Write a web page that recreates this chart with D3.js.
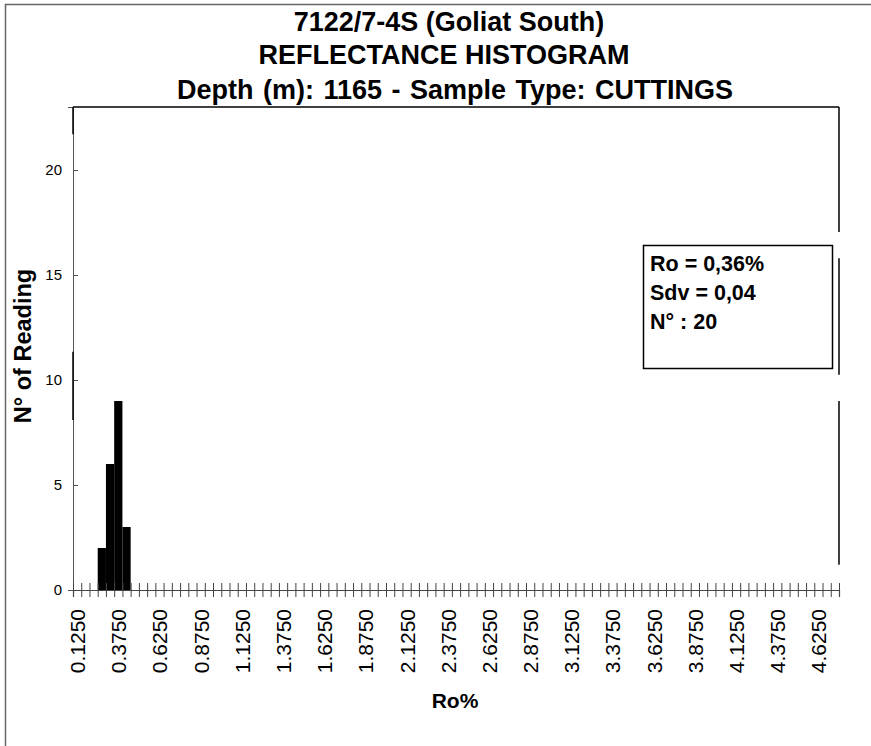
<!DOCTYPE html>
<html>
<head>
<meta charset="utf-8">
<script src="https://cdn.jsdelivr.net/npm/d3@7"></script>
<style>
  html, body { margin: 0; padding: 0; background: #fff; }
  svg { display: block; font-family: "Liberation Sans", Arial, sans-serif; }
</style>
</head>
<body>
<svg id="chart" width="871" height="746"></svg>
<script>
// Reflectance histogram: readings per Ro% class (classes 0.05 wide)
const titleLines = [
  "7122/7-4S (Goliat South)",
  "REFLECTANCE HISTOGRAM",
  "Depth (m): 1165 - Sample Type: CUTTINGS"
];
const binCenters = [0.275, 0.325, 0.375, 0.425];
const binCounts = [2, 6, 9, 3];
const binWidth = 0.05;
const xEdgeMin = 0.1;
const xEdgeMax = 4.75;
const xTickLabels = [0.125, 0.375, 0.625, 0.875, 1.125, 1.375, 1.625, 1.875, 2.125,
  2.375, 2.625, 2.875, 3.125, 3.375, 3.625, 3.875, 4.125, 4.375, 4.625];
const yTicks = [0, 5, 10, 15, 20];
const yMax = 23;
const statLines = ["Ro = 0,36%", "Sdv = 0,04", "N° : 20"];
// pieces of the plot frame that are drawn solid (in reading units)
const rightFrameSegments = [[23, 17.05], [15.8, 10.25], [9.0, 1.2]];
const leftAxisDarkSegments = [[23, 21.7], [11.35, 8.1]];

const svg = d3.select("#chart");
const plot = { left: 73, right: 839, top: 107, bottom: 590 };

const x = d3.scaleLinear().domain([xEdgeMin, xEdgeMax]).range([plot.left, plot.right]);
const y = d3.scaleLinear().domain([0, yMax]).range([plot.bottom, plot.top]);

// outer chart border
svg.append("path")
  .attr("d", `M5.5,760 V4.5 H880`)
  .attr("fill", "none").attr("stroke", "#666").attr("stroke-width", 1.5);

// title, three centred lines
const titleLayout = [
  { cx: 449, y: 31, ws: 0 },
  { cx: 444, y: 64, ws: 0 },
  { cx: 455, y: 99, ws: 2 }
];
svg.append("g").selectAll("text").data(titleLines).join("text")
  .attr("x", (d, i) => titleLayout[i].cx)
  .attr("y", (d, i) => titleLayout[i].y)
  .attr("word-spacing", (d, i) => titleLayout[i].ws)
  .attr("text-anchor", "middle")
  .attr("font-weight", "bold")
  .attr("font-size", 27)
  .attr("fill", "#000")
  .text(d => d);

// bars
svg.append("g").selectAll("rect").data(binCenters).join("rect")
  .attr("x", d => x(d - binWidth / 2))
  .attr("width", x(binWidth) - x(0))
  .attr("y", (d, i) => y(binCounts[i]))
  .attr("height", (d, i) => y(0) - y(binCounts[i]))
  .attr("fill", "#000");

// plot frame: top edge and broken right edge
svg.append("line")
  .attr("x1", plot.left).attr("x2", plot.right)
  .attr("y1", plot.top).attr("y2", plot.top)
  .attr("stroke", "#000").attr("stroke-width", 1.5);
svg.append("g").selectAll("line").data(rightFrameSegments).join("line")
  .attr("x1", plot.right).attr("x2", plot.right)
  .attr("y1", d => y(d[0])).attr("y2", d => y(d[1]))
  .attr("stroke", "#000").attr("stroke-width", 1.5);

// y axis
const yAxis = svg.append("g")
  .attr("transform", `translate(${plot.left},0)`)
  .call(d3.axisLeft(y).tickValues(yTicks).tickSize(5).tickPadding(6));
yAxis.select(".domain").attr("stroke", "#555").attr("stroke-width", 1);
yAxis.selectAll(".tick line").attr("x2", 5).attr("stroke", "#555");
yAxis.selectAll(".tick text")
  .attr("font-size", 15).attr("font-family", "Liberation Sans, Arial, sans-serif")
  .attr("fill", "#000");
svg.append("g").selectAll("line").data(leftAxisDarkSegments).join("line")
  .attr("x1", plot.left).attr("x2", plot.left)
  .attr("y1", d => y(d[0])).attr("y2", d => y(d[1]))
  .attr("stroke", "#000").attr("stroke-width", 1.5);

// x axis: ticks on class edges
const edges = d3.range(0, Math.round((xEdgeMax - xEdgeMin) / binWidth) + 1)
  .map(i => xEdgeMin + i * binWidth);
const xAxis = svg.append("g")
  .attr("transform", `translate(0,${plot.bottom})`)
  .call(d3.axisBottom(x).tickValues(edges).tickSize(7).tickFormat(""));
xAxis.select(".domain").attr("stroke", "#444").attr("stroke-width", 1.2);
xAxis.selectAll(".tick line").attr("y1", -7).attr("stroke", "#444");

// x tick labels at every fifth class centre
const xLabels = svg.append("g")
  .attr("transform", `translate(0,${plot.bottom})`)
  .call(d3.axisBottom(x).tickValues(xTickLabels).tickSize(0).tickFormat(d3.format(".4f")));
xLabels.select(".domain").remove();
xLabels.selectAll(".tick text")
  .attr("font-size", 21).attr("font-family", "Liberation Sans, Arial, sans-serif")
  .attr("fill", "#000")
  .attr("text-anchor", "end")
  .attr("dy", null)
  .attr("dominant-baseline", "central")
  .attr("transform", "translate(0,19) rotate(-90)")
  .attr("y", 0).attr("x", 0);

// axis titles
svg.append("text")
  .attr("x", 455).attr("y", 708)
  .attr("text-anchor", "middle").attr("font-weight", "bold").attr("font-size", 21)
  .text("Ro%");
svg.append("text")
  .attr("transform", "translate(31,346) rotate(-90)")
  .attr("text-anchor", "middle").attr("font-weight", "bold").attr("font-size", 23.5)
  .text("N° of Reading");

// statistics box
svg.append("rect")
  .attr("x", 643.5).attr("y", 245.5).attr("width", 189).attr("height", 123)
  .attr("fill", "#fff").attr("stroke", "#000").attr("stroke-width", 1.5);
svg.append("g").selectAll("text").data(statLines).join("text")
  .attr("x", 650)
  .attr("y", (d, i) => 271 + i * 29)
  .attr("font-weight", "bold").attr("font-size", 21.5)
  .text(d => d);
</script>
</body>
</html>
